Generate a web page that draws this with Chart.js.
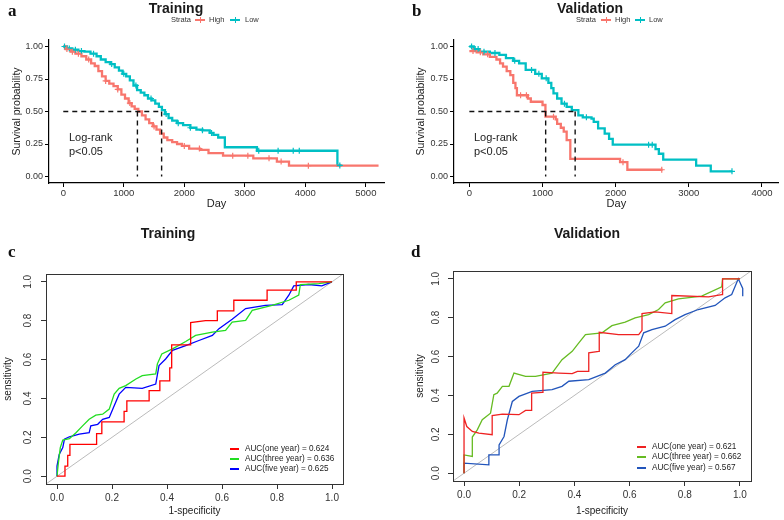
<!DOCTYPE html>
<html>
<head>
<meta charset="utf-8">
<script src="https://cdn.jsdelivr.net/npm/chart.js@4.4.1/dist/chart.umd.min.js"></script>
<style>
body { margin: 0; background: #fff; width: 784px; height: 520px; position: relative; overflow: hidden; font-family: "Liberation Sans", Arial, sans-serif; }
canvas { position: absolute; }
.t { position: absolute; white-space: nowrap; color: #222; line-height: 1; }
.ttl { font-weight: bold; font-size: 14px; transform: translate(-50%, -50%); color: #1a1a1a; }
.let { font-family: "Liberation Serif", "Times New Roman", serif; font-weight: bold; font-size: 17px; color: #111; }
.lg { font-size: 7.5px; transform: translateY(-50%); color: #333; }
.ln { position: absolute; height: 2px; width: 10px; }
.ln::after { content: ""; position: absolute; left: 4.5px; top: -2px; width: 1px; height: 6px; background: inherit; }
.rl { position: absolute; height: 1.5px; width: 9px; }
.rg { font-size: 8.2px; transform: translateY(-50%); color: #222; }
.lr { font-size: 11px; color: #222; }
</style>
</head>
<body>
<canvas id="ca" width="392" height="212" style="left:0;top:0"></canvas>
<canvas id="cb" width="392" height="212" style="left:392px;top:0"></canvas>
<canvas id="cc" width="392" height="305" style="left:0;top:215px"></canvas>
<canvas id="cd" width="392" height="305" style="left:392px;top:215px"></canvas>

<div class="t let" style="left:8px;top:2px">a</div>
<div class="t let" style="left:412px;top:2px">b</div>
<div class="t let" style="left:8px;top:243px">c</div>
<div class="t let" style="left:411px;top:243px">d</div>

<div class="t ttl" style="left:176px;top:8px">Training</div>
<div class="t ttl" style="left:590px;top:8px">Validation</div>
<div class="t ttl" style="left:168px;top:233px">Training</div>
<div class="t ttl" style="left:587px;top:233px">Validation</div>

<div class="t lg" style="left:171px;top:20px">Strata</div>
<div class="ln" style="left:195px;top:19px;background:#F8766D"></div>
<div class="t lg" style="left:209px;top:20px">High</div>
<div class="ln" style="left:230px;top:19px;background:#00BFC4"></div>
<div class="t lg" style="left:245px;top:20px">Low</div>

<div class="t lg" style="left:576px;top:20px">Strata</div>
<div class="ln" style="left:601px;top:19px;background:#F8766D"></div>
<div class="t lg" style="left:615px;top:20px">High</div>
<div class="ln" style="left:635px;top:19px;background:#00BFC4"></div>
<div class="t lg" style="left:649px;top:20px">Low</div>

<div class="t lr" style="left:69px;top:132px">Log-rank</div>
<div class="t lr" style="left:69px;top:146px">p&lt;0.05</div>
<div class="t lr" style="left:474px;top:132px">Log-rank</div>
<div class="t lr" style="left:474px;top:146px">p&lt;0.05</div>

<div class="rl" style="left:230px;top:448px;background:#FF0000"></div>
<div class="t rg" style="left:245px;top:449px">AUC(one year) = 0.624</div>
<div class="rl" style="left:230px;top:458px;background:#22DD22"></div>
<div class="t rg" style="left:245px;top:459px">AUC(three year) = 0.636</div>
<div class="rl" style="left:230px;top:468px;background:#0000FF"></div>
<div class="t rg" style="left:245px;top:469px">AUC(five year) = 0.625</div>

<div class="rl" style="left:637px;top:446px;background:#EE2222"></div>
<div class="t rg" style="left:652px;top:447px">AUC(one year) = 0.621</div>
<div class="rl" style="left:637px;top:456px;background:#66BB22"></div>
<div class="t rg" style="left:652px;top:457px">AUC(three year) = 0.662</div>
<div class="rl" style="left:637px;top:467px;background:#2255BB"></div>
<div class="t rg" style="left:652px;top:468px">AUC(five year) = 0.567</div>

<script>
// tick values
const kmTicksA = [0, 1000, 2000, 3000, 4000, 5000];
const kmTicksB = [0, 1000, 2000, 3000, 4000];
const probTicks = [0, 0.25, 0.5, 0.75, 1];
const rocTicks = [0, 0.2, 0.4, 0.6, 0.8, 1];

// a: training KM
const aHighTime = [0, 40, 120, 200, 300, 380, 460, 520, 580, 640, 700, 760, 830, 900, 960, 1020, 1080, 1130, 1180, 1240, 1300, 1360, 1420, 1480, 1540, 1600, 1660, 1720, 1800, 1880, 1960, 2080, 2260, 2400, 2640, 3140, 3530, 3730, 5210];
const aHighSurv = [1.0, 0.98, 0.96, 0.945, 0.925, 0.90, 0.87, 0.85, 0.81, 0.77, 0.735, 0.715, 0.695, 0.67, 0.63, 0.60, 0.565, 0.54, 0.52, 0.50, 0.47, 0.44, 0.41, 0.385, 0.36, 0.33, 0.30, 0.28, 0.265, 0.25, 0.235, 0.215, 0.205, 0.18, 0.16, 0.14, 0.115, 0.083, 0.083];
const aHighCens = [60, 150, 250, 420, 700, 900, 1100, 1500, 2000, 2250, 2800, 3050, 3400, 3600, 4050];
const aLowTime = [0, 60, 150, 250, 350, 450, 550, 620, 700, 780, 850, 920, 980, 1040, 1100, 1160, 1220, 1280, 1340, 1400, 1460, 1520, 1580, 1630, 1680, 1740, 1800, 1880, 1980, 2100, 2200, 2300, 2420, 2480, 2560, 2670, 3200, 4530, 4600];
const aLowSurv = [1.0, 0.985, 0.975, 0.965, 0.96, 0.945, 0.925, 0.90, 0.88, 0.865, 0.84, 0.815, 0.79, 0.77, 0.74, 0.70, 0.665, 0.645, 0.625, 0.60, 0.585, 0.56, 0.535, 0.51, 0.48, 0.45, 0.43, 0.41, 0.395, 0.375, 0.36, 0.355, 0.335, 0.32, 0.30, 0.225, 0.198, 0.085, 0.085];
const aLowCens = [20, 100, 200, 300, 500, 800, 1000, 1200, 1450, 1700, 1900, 2100, 2300, 2450, 3230, 3550, 3800, 3900, 4570];
const medianA = [1225, 1625];

// b: validation KM
const bHighTime = [0, 100, 190, 280, 370, 420, 460, 510, 560, 600, 630, 650, 800, 840, 1000, 1040, 1180, 1200, 1250, 1290, 1330, 1380, 2060, 2160, 2640];
const bHighSurv = [0.965, 0.955, 0.94, 0.92, 0.90, 0.87, 0.845, 0.81, 0.78, 0.72, 0.68, 0.625, 0.60, 0.575, 0.55, 0.46, 0.44, 0.405, 0.375, 0.345, 0.28, 0.135, 0.11, 0.052, 0.052];
const bHighCens = [50, 150, 250, 700, 780, 1150, 2100, 2630];
const bLowTime = [0, 60, 140, 280, 410, 500, 600, 680, 770, 900, 990, 1080, 1120, 1150, 1200, 1260, 1330, 1400, 1490, 1550, 1670, 1700, 1760, 1850, 1910, 1960, 2545, 2590, 2650, 3100, 3300, 3595];
const bLowSurv = [1.0, 0.98, 0.96, 0.95, 0.935, 0.91, 0.89, 0.87, 0.82, 0.79, 0.755, 0.72, 0.68, 0.64, 0.60, 0.56, 0.535, 0.51, 0.47, 0.455, 0.445, 0.42, 0.37, 0.33, 0.29, 0.245, 0.21, 0.175, 0.13, 0.083, 0.04, 0.04];
const bLowCens = [30, 80, 120, 200, 350, 620, 850, 950, 1050, 1300, 1600, 2450, 2500, 3590];
const medianB = [1043, 1446];

// c: training ROC
const cOneFpr = [0, 0.029, 0.029, 0.039, 0.039, 0.047, 0.047, 0.144, 0.144, 0.163, 0.163, 0.244, 0.244, 0.254, 0.254, 0.335, 0.335, 0.374, 0.374, 0.41, 0.41, 0.417, 0.417, 0.486, 0.486, 0.54, 0.583, 0.583, 0.643, 0.643, 0.764, 0.764, 0.857, 0.87, 0.87, 1.0];
const cOneTpr = [0, 0, 0.052, 0.052, 0.107, 0.107, 0.164, 0.164, 0.219, 0.219, 0.279, 0.279, 0.333, 0.333, 0.388, 0.388, 0.44, 0.44, 0.49, 0.49, 0.557, 0.557, 0.676, 0.676, 0.79, 0.80, 0.80, 0.85, 0.85, 0.905, 0.905, 0.957, 0.957, 0.957, 1.0, 1.0];
const cThreeFpr = [0, 0.005, 0.012, 0.021, 0.045, 0.069, 0.093, 0.117, 0.141, 0.166, 0.19, 0.208, 0.226, 0.25, 0.287, 0.31, 0.359, 0.365, 0.381, 0.42, 0.468, 0.504, 0.565, 0.613, 0.637, 0.686, 0.71, 0.782, 0.843, 0.879, 0.885, 0.952, 1.0];
const cThreeTpr = [0, 0.069, 0.147, 0.186, 0.193, 0.224, 0.259, 0.293, 0.314, 0.319, 0.345, 0.422, 0.452, 0.466, 0.5, 0.517, 0.526, 0.578, 0.629, 0.655, 0.693, 0.724, 0.741, 0.75, 0.793, 0.802, 0.853, 0.879, 0.905, 0.931, 0.986, 0.991, 1.0];
const cFiveFpr = [0, 0, 0.008, 0.021, 0.027, 0.045, 0.081, 0.117, 0.123, 0.148, 0.166, 0.19, 0.208, 0.226, 0.25, 0.31, 0.359, 0.371, 0.395, 0.42, 0.468, 0.516, 0.565, 0.589, 0.637, 0.686, 0.758, 0.819, 0.843, 0.861, 0.915, 0.963, 1.0];
const cFiveTpr = [0, 0.052, 0.112, 0.147, 0.19, 0.203, 0.216, 0.224, 0.259, 0.267, 0.293, 0.302, 0.362, 0.422, 0.457, 0.452, 0.474, 0.569, 0.603, 0.647, 0.672, 0.698, 0.724, 0.759, 0.807, 0.862, 0.879, 0.883, 0.931, 0.979, 0.986, 0.979, 1.0];

// d: validation ROC
const dOneFpr = [0, 0, 0.01, 0.03, 0.054, 0.102, 0.102, 0.139, 0.199, 0.223, 0.245, 0.245, 0.283, 0.286, 0.286, 0.343, 0.392, 0.411, 0.452, 0.452, 0.488, 0.49, 0.49, 0.56, 0.633, 0.645, 0.645, 0.693, 0.753, 0.753, 0.886, 0.934, 0.937, 0.937, 1.0];
const dOneTpr = [0, 0.284, 0.24, 0.215, 0.206, 0.198, 0.296, 0.304, 0.301, 0.323, 0.323, 0.412, 0.416, 0.416, 0.52, 0.515, 0.512, 0.524, 0.524, 0.619, 0.627, 0.627, 0.725, 0.713, 0.713, 0.735, 0.821, 0.83, 0.821, 0.914, 0.907, 0.919, 0.919, 1.0, 1.0];
const dThreeFpr = [0, 0, 0.03, 0.03, 0.048, 0.066, 0.096, 0.108, 0.12, 0.139, 0.163, 0.181, 0.223, 0.259, 0.319, 0.355, 0.392, 0.416, 0.44, 0.5, 0.536, 0.584, 0.62, 0.669, 0.705, 0.729, 0.777, 0.861, 0.934, 0.937, 1.0];
const dThreeTpr = [0, 0.094, 0.086, 0.186, 0.223, 0.275, 0.309, 0.404, 0.412, 0.447, 0.447, 0.515, 0.498, 0.498, 0.515, 0.584, 0.627, 0.67, 0.713, 0.722, 0.759, 0.777, 0.799, 0.816, 0.842, 0.876, 0.897, 0.911, 0.959, 1.0, 1.0];
const dFiveFpr = [0, 0, 0.09, 0.09, 0.127, 0.127, 0.145, 0.157, 0.175, 0.199, 0.247, 0.319, 0.355, 0.38, 0.452, 0.512, 0.548, 0.584, 0.608, 0.633, 0.651, 0.681, 0.729, 0.765, 0.801, 0.849, 0.91, 0.946, 0.97, 0.994, 1.01, 1.01];
const dFiveTpr = [0, 0.052, 0.043, 0.094, 0.094, 0.146, 0.189, 0.275, 0.369, 0.395, 0.421, 0.43, 0.447, 0.473, 0.481, 0.515, 0.558, 0.584, 0.619, 0.653, 0.722, 0.739, 0.756, 0.79, 0.816, 0.842, 0.863, 0.902, 0.919, 1.0, 0.95, 0.91];

const RED = '#F8766D', TEAL = '#00BFC4';
const FONT = '"Liberation Sans", Arial, sans-serif';

function pts(xs, ys) { return xs.map((x, i) => ({ x: x, y: ys[i] })); }
function survAt(t, times, surv) {
    let s = surv[0];
    for (let i = 0; i < times.length; i++) if (times[i] <= t) s = surv[i];
    return s;
}
function censPts(cens, times, surv) { return cens.map(t => ({ x: t, y: survAt(t, times, surv) })); }

function dash(data) {
    return { data: data, showLine: true, borderColor: '#111', borderWidth: 1.4, borderDash: [5, 4], pointRadius: 0 };
}

function kmChart(id, hi, lo, med, xr, xTicks, pad, yW) {
    return new Chart(document.getElementById(id), {
        type: 'scatter',
        data: {
            datasets: [
                dash([{ x: 0, y: 0.5 }, { x: med[1], y: 0.5 }]),
                dash([{ x: med[0], y: 0.5 }, { x: med[0], y: 0 }]),
                dash([{ x: med[1], y: 0.5 }, { x: med[1], y: 0 }]),
                { data: censPts(hi[2], hi[0], hi[1]), pointStyle: 'cross', radius: 3, borderColor: RED, borderWidth: 1.2 },
                { data: censPts(lo[2], lo[0], lo[1]), pointStyle: 'cross', radius: 3, borderColor: TEAL, borderWidth: 1.2 },
                // survival curves hold their value until the next event time
                { data: pts(hi[0], hi[1]), showLine: true, stepped: 'before', borderColor: RED, borderWidth: 2.3, pointRadius: 0 },
                { data: pts(lo[0], lo[1]), showLine: true, stepped: 'before', borderColor: TEAL, borderWidth: 2.3, pointRadius: 0 }
            ]
        },
        options: {
            responsive: false,
            animation: false,
            layout: { padding: pad },
            plugins: { legend: { display: false }, tooltip: { enabled: false } },
            scales: {
                x: {
                    type: 'linear', min: xr[0], max: xr[1],
                    afterBuildTicks: s => { s.ticks = xTicks.map(v => ({ value: v })); },
                    afterFit: s => { s.height = 29; },
                    grid: { drawOnChartArea: false, tickLength: 4, color: '#000' },
                    border: { display: true, color: '#000', width: 1.2 },
                    ticks: { font: { family: FONT, size: 9.5 }, color: '#333', padding: 1, maxRotation: 0, callback: v => v },
                    title: { display: true, text: 'Day', font: { family: FONT, size: 11 }, color: '#222', padding: { top: 0, bottom: 1 } }
                },
                y: {
                    min: -0.05, max: 1.05,
                    afterBuildTicks: s => { s.ticks = probTicks.map(v => ({ value: v })); },
                    afterFit: s => { s.width = yW; },
                    grid: { drawOnChartArea: false, tickLength: 4, color: '#000' },
                    border: { display: true, color: '#000', width: 1.2 },
                    ticks: { font: { family: FONT, size: 9 }, color: '#333', padding: 2, callback: v => v.toFixed(2) },
                    title: { display: true, text: 'Survival probability', font: { family: FONT, size: 10.5 }, color: '#222', padding: { top: 2, bottom: 0 } }
                }
            }
        }
    });
}

const boxPlugin = {
    id: 'rocBox',
    afterDraw(chart, args, opts) {
        const { ctx, chartArea: a, scales: { y } } = chart;
        ctx.save();
        ctx.strokeStyle = '#333';
        ctx.lineWidth = 1;
        ctx.strokeRect(a.left + 0.5, a.top + 0.5, a.right - a.left, a.bottom - a.top);
        ctx.font = '10px ' + FONT;
        ctx.fillStyle = '#333';
        ctx.textAlign = 'center';
        ctx.textBaseline = 'middle';
        rocTicks.forEach(v => {
            ctx.save();
            ctx.translate(a.left - opts.off, y.getPixelForValue(v));
            ctx.rotate(-Math.PI / 2);
            ctx.fillText(v.toFixed(1), 0, 0);
            ctx.restore();
        });
        ctx.restore();
    }
};

function rocLine(xs, ys, color) {
    return { data: pts(xs, ys), showLine: true, borderColor: color, borderWidth: 1.3, pointRadius: 0, tension: 0 };
}

function rocChart(id, curves, colors, pad, yW, xH, off) {
    return new Chart(document.getElementById(id), {
        type: 'scatter',
        data: {
            datasets: [
                rocLine(curves[0][0], curves[0][1], colors[0]),
                rocLine(curves[1][0], curves[1][1], colors[1]),
                rocLine(curves[2][0], curves[2][1], colors[2]),
                { data: [{ x: -0.04, y: -0.04 }, { x: 1.04, y: 1.04 }], showLine: true, borderColor: '#BBBBBB', borderWidth: 1, pointRadius: 0 }
            ]
        },
        plugins: [boxPlugin],
        options: {
            responsive: false,
            animation: false,
            layout: { padding: pad },
            plugins: { legend: { display: false }, tooltip: { enabled: false }, rocBox: { off: off } },
            scales: {
                x: {
                    type: 'linear', min: -0.04, max: 1.04,
                    afterBuildTicks: s => { s.ticks = rocTicks.map(v => ({ value: v })); },
                    afterFit: s => { s.height = xH; },
                    grid: { drawOnChartArea: false, tickLength: 5, color: '#333' },
                    border: { display: true, color: '#333' },
                    ticks: { font: { family: FONT, size: 10 }, color: '#333', padding: 3, maxRotation: 0, callback: v => v.toFixed(1) },
                    title: { display: true, text: '1-specificity', font: { family: FONT, size: 10 }, color: '#222', padding: { top: 0, bottom: 3 } }
                },
                y: {
                    min: -0.04, max: 1.04,
                    afterBuildTicks: s => { s.ticks = rocTicks.map(v => ({ value: v })); },
                    afterFit: s => { s.width = yW; },
                    grid: { drawOnChartArea: false, tickLength: 5, color: '#333' },
                    border: { display: true, color: '#333' },
                    ticks: { display: false },
                    title: { display: true, text: 'sensitivity', font: { family: FONT, size: 10 }, color: '#222', padding: { top: 2, bottom: 0 } }
                }
            }
        }
    });
}

kmChart('ca', [aHighTime, aHighSurv, aHighCens], [aLowTime, aLowSurv, aLowCens], medianA,
    [-236, 5300], kmTicksA, { left: 9, top: 40, right: 8, bottom: 0 }, 40);
kmChart('cb', [bHighTime, bHighSurv, bHighCens], [bLowTime, bLowSurv, bLowCens], medianB,
    [-210, 4230], kmTicksB, { left: 21, top: 40, right: 0, bottom: 0 }, 41);

rocChart('cc', [[cOneFpr, cOneTpr], [cThreeFpr, cThreeTpr], [cFiveFpr, cFiveTpr]], ['#FF0000', '#22DD22', '#0000FF'],
    { left: 0, top: 59, right: 49, bottom: 0 }, 46, 36, 18);
rocChart('cd', [[dOneFpr, dOneTpr], [dThreeFpr, dThreeTpr], [dFiveFpr, dFiveTpr]], ['#EE2222', '#66BB22', '#2255BB'],
    { left: 20, top: 56, right: 33, bottom: 0 }, 41, 39, 17);
</script>
</body>
</html>
